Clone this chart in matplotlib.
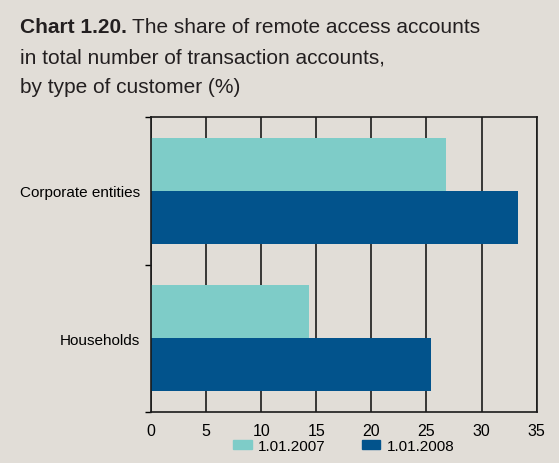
import matplotlib
matplotlib.use('Agg')
import matplotlib.pyplot as plt
import matplotlib.patches as mpatches
from matplotlib.ticker import FixedLocator
import numpy as np

# Data
categories = ['Households', 'Corporate entities']
series_labels = ['1.01.2007', '1.01.2008']
values_2007 = [14.3, 26.8]
values_2008 = [25.4, 33.3]

bg = '#E1DDD7'
c2007 = '#7ECCC8'
c2008 = '#02538C'

plt.rcParams['font.family'] = ['Liberation Sans', 'DejaVu Sans']

fig = plt.figure(figsize=(5.59, 4.64), dpi=100, facecolor=bg)
ax = fig.add_axes([0.2701, 0.1099, 0.6900, 0.6358], facecolor=bg)

y = np.arange(len(categories))
h = 0.36
ax.barh(y + h / 2, values_2007, height=h, color=c2007, zorder=2)
ax.barh(y - h / 2, values_2008, height=h, color=c2008, zorder=2)

ax.set_xlim(0, 35)
ax.set_ylim(-0.5, 1.5)
ax.set_xticks(np.arange(0, 36, 5))
ax.set_yticks(y)
ax.set_yticklabels(categories)
ax.yaxis.set_minor_locator(FixedLocator([-0.5, 0.5, 1.5]))
ax.tick_params(axis='y', which='major', length=0, pad=8, labelsize=11)
ax.tick_params(axis='y', which='minor', length=4, width=1, color='black')
ax.tick_params(axis='x', length=0, pad=8, labelsize=11.5)
ax.grid(axis='x', color='#1a1a1a', linewidth=1.2, zorder=1)
ax.set_axisbelow(True)
for s in ax.spines.values():
    s.set_color('#1a1a1a')
    s.set_linewidth(1.2)

handles = [mpatches.Patch(color=c2007, label=series_labels[0]),
           mpatches.Patch(color=c2008, label=series_labels[1])]
ax.legend(handles=handles, ncol=2, loc='upper center', bbox_to_anchor=(0.5, -0.07),
          frameon=False, fontsize=11, handlelength=1.2, handleheight=0.55,
          columnspacing=2.4, handletextpad=0.4, borderaxespad=0)

# Title with a bold lead-in
fig.canvas.draw()
r = fig.canvas.get_renderer()
t1 = fig.text(20 / 559, 1 - 33 / 464, 'Chart 1.20.', fontsize=15, fontweight='bold',
              ha='left', va='baseline', color='#231F20')
bb = t1.get_window_extent(renderer=r)
fig.text((bb.x1 + 5) / 559, 1 - 33 / 464, 'The share of remote access accounts', fontsize=15,
         ha='left', va='baseline', color='#231F20')
fig.text(20 / 559, 1 - 63 / 464, 'in total number of transaction accounts,', fontsize=15,
         ha='left', va='baseline', color='#231F20')
fig.text(20 / 559, 1 - 93 / 464, 'by type of customer (%)', fontsize=15,
         ha='left', va='baseline', color='#231F20')

fig.savefig('out.png', dpi=100, facecolor=bg)
